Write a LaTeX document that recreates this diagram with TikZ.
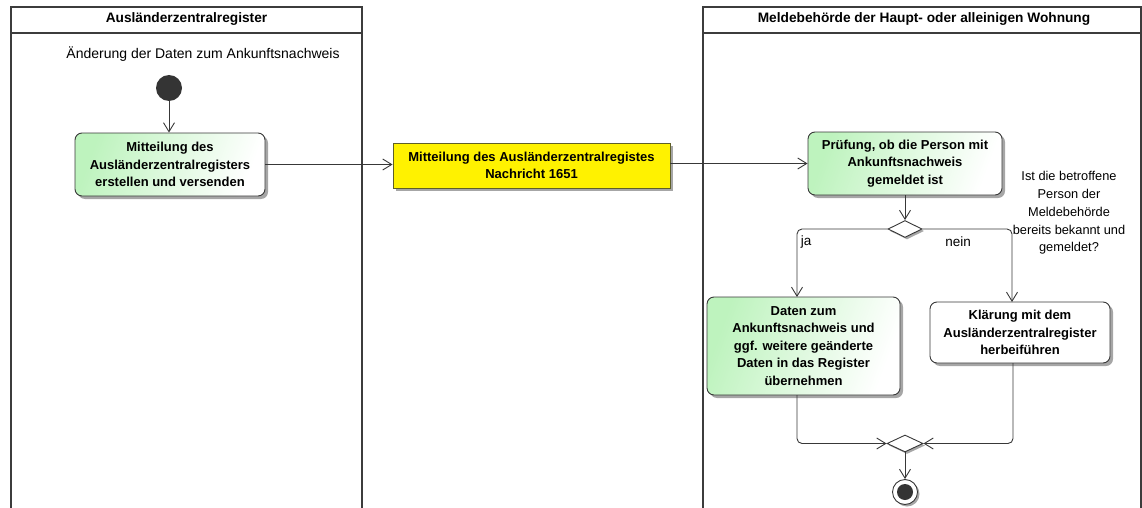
\documentclass[tikz,border=0pt]{standalone}
\usepackage{fontspec}
\setmainfont{Liberation Sans}
\usetikzlibrary{arrows.meta,shapes.geometric,shadows}
\definecolor{lanec}{RGB}{60,60,60}
\definecolor{linec}{RGB}{56,56,56}
\definecolor{grn}{RGB}{190,243,190}
\definecolor{yelb}{RGB}{95,95,40}
\definecolor{dark}{RGB}{52,52,52}
\tikzset{
  lane/.style={draw=lanec,line width=1.6pt},
  act/.style={draw=linec,line width=0.9pt,rounded corners=7pt,align=center,
    font=\fontsize{13}{17.5}\selectfont\bfseries,inner sep=0pt,
    drop shadow={shadow xshift=3pt,shadow yshift=-3pt,fill=black!35,opacity=1}},
  gact/.style={act,left color=grn,right color=white,shading angle=70},
  wact/.style={act,fill=white},
  obj/.style={draw=yelb,line width=0.9pt,fill=yellow,align=center,
    font=\fontsize{13}{17.5}\selectfont\bfseries,inner sep=0pt,
    drop shadow={shadow xshift=3pt,shadow yshift=-3pt,fill=black!35,opacity=1}},
  dia/.style={diamond,draw=linec,line width=0.9pt,fill=white,inner sep=0pt,
    drop shadow={shadow xshift=2pt,shadow yshift=-2pt,fill=black!35,opacity=1}},
  conn/.style={draw=linec,line width=0.9pt,-{Straight Barb[length=9pt,width=11pt]}},
  hdr/.style={font=\fontsize{13.7}{15}\selectfont\bfseries},
  txt/.style={font=\fontsize{13.5}{17.5}\selectfont,align=center},
  ctxt/.style={font=\fontsize{12.8}{17.7}\selectfont,align=center},
}
\begin{document}
\begin{tikzpicture}[x=1pt,y=-1pt]
\useasboundingbox (0,0) rectangle (1142,508);
% lanes
\draw[lane] (11,510) -- (11,7) -- (362,7) -- (362,510);
\draw[lane,line width=2pt] (11,33) -- (362,33);
\node[hdr] (h1) at (186.5,19) {Ausländerzentralregister};
\draw[lane] (703,510) -- (703,7) -- (1141,7) -- (1141,510);
\draw[lane,line width=2pt] (703,33) -- (1141,33);
\node[hdr] (h2) at (924,19) {Meldebehörde der Haupt- oder alleinigen Wohnung};
% left lane
\node[txt,font=\fontsize{14}{17.5}\selectfont] (t1) at (203,54) {Änderung der Daten zum Ankunftsnachweis};
\node[circle,fill=dark,minimum size=26pt,inner sep=0pt] (start) at (169,88) {};
\node[gact,minimum width=190pt,minimum height=63pt] (a1) at (170,164.5)
  {Mitteilung des\\Ausländerzentralregisters\\erstellen und versenden};
\node[obj,minimum width=277pt,minimum height=45pt] (o1) at (531.5,165.5)
  {Mitteilung des Ausländerzentralregistes\\Nachricht 1651};
% right lane
\node[gact,minimum width=194pt,minimum height=63pt] (a2) at (905,163.5)
  {Prüfung, ob die Person mit\\Ankunftsnachweis\\gemeldet ist};
\node[dia,minimum width=34pt,minimum height=17pt] (d1) at (905,229) {};
\node[ctxt] (q) at (1069,213) {Ist die betroffene\\Person der\\Meldebehörde\\bereits bekannt und\\gemeldet?};
\node[txt] (ja) at (806,242) {ja};
\node[txt] (nein) at (958,242) {nein};
\node[gact,minimum width=193pt,minimum height=98pt] (a3) at (803.5,346)
  {Daten zum\\Ankunftsnachweis und\\ggf. weitere geänderte\\Daten in das Register\\übernehmen};
\node[wact,minimum width=180pt,minimum height=61pt] (a4) at (1020,332.5)
  {Klärung mit dem\\Ausländerzentralregister\\herbeiführen};
\node[dia,minimum width=36pt,minimum height=17pt] (d2) at (905,443.5) {};
\node[circle,draw=linec,line width=0.9pt,fill=white,minimum size=25pt,inner sep=0pt,
  drop shadow={shadow xshift=2pt,shadow yshift=-2pt,fill=black!35,opacity=1}] (end) at (905,492) {};
\node[circle,fill=dark,minimum size=16pt,inner sep=0pt] (endin) at (end.center) {};
% connectors
\draw[conn] (start) -- (a1.north -| start);
\draw[conn] (a1.east) -- (a1.east -| o1.west);
\draw[conn] (o1.east |- a2.west) -- (a2.west);
\draw[conn] (a2.south) -- (d1.north);
\draw[conn,rounded corners=5pt] (d1.west) -- (797,229) -- (797,297);
\draw[conn,rounded corners=5pt] (d1.east) -- (1012,229) -- (1012,302);
\draw[conn,rounded corners=5pt] (797,395) -- (797,443.5) -- (d2.west);
\draw[conn,rounded corners=5pt] (1013,363) -- (1013,443.5) -- (d2.east);
\draw[conn] (d2.south) -- (end.north);
\end{tikzpicture}
\end{document}
